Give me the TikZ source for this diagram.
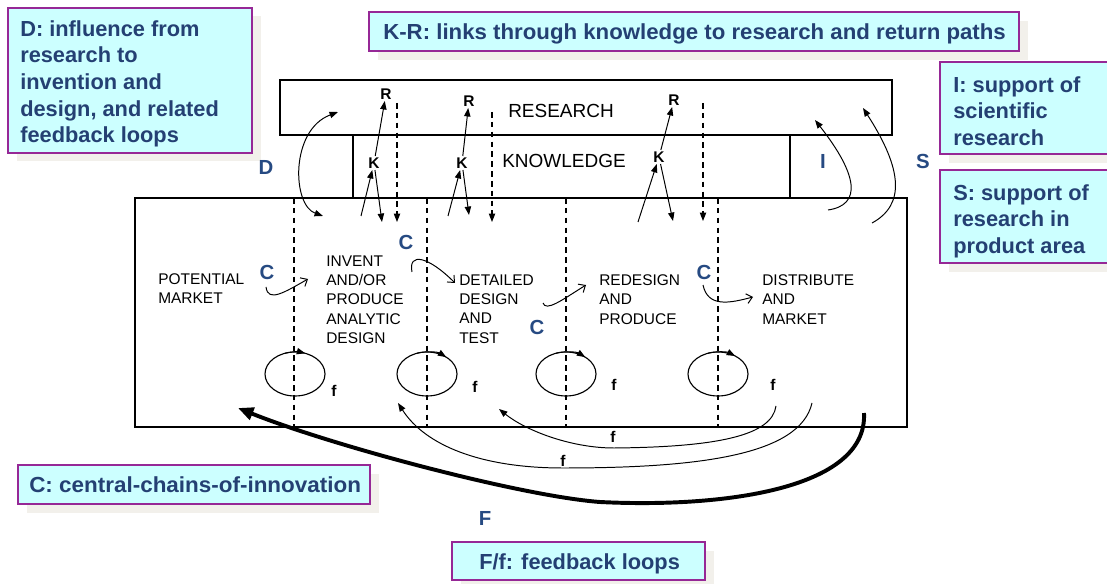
\documentclass[tikz,border=0pt]{standalone}
\usepackage{fontspec}
\setmainfont{Liberation Sans}
\usepackage{xcolor,graphicx}
\usetikzlibrary{positioning, arrows.meta}

\definecolor{notefill}{RGB}{204,255,255}
\definecolor{noteline}{RGB}{150,40,150}
\definecolor{notetext}{RGB}{36,64,115}
\definecolor{notedropc}{RGB}{242,240,235}
\definecolor{tagblue}{RGB}{38,74,130}

\begin{document}
\begin{tikzpicture}[x=0.025cm, y=-0.025cm,
    box/.style={draw, line width=0.9pt},
    divider/.style={dash pattern=on 4pt off 3pt, line width=0.8pt},
    arr/.style={-{Triangle[length=6pt, width=4.5pt]}, line width=0.7pt},
    arrboth/.style={{Triangle[length=6pt, width=4.5pt]}-{Triangle[length=6pt, width=4.5pt]}, line width=0.7pt},
    barb/.style={-{Straight Barb[length=4pt, width=7pt]}, line width=0.7pt},
    bigarr/.style={-{Triangle[length=11pt, width=9pt]}, line width=2.8pt},
    stage/.style={align=left, anchor=north west, inner sep=0pt, font=\fontsize{11}{13.7}\selectfont},
    layer/.style={inner sep=0pt, font=\fontsize{13.5}{14}\selectfont},
    kr/.style={inner sep=1pt, font=\bfseries\fontsize{11}{11}\selectfont},
    tag/.style={inner sep=0pt, text=tagblue, font=\bfseries\fontsize{14.5}{14.5}\selectfont},
    note/.style={draw=noteline, fill=notefill, line width=1pt},
    notedrop/.style={fill=notedropc},
    notetxt/.style={align=left, inner sep=0pt, text=notetext, font=\bfseries\fontsize{15.5}{19}\selectfont}]
  \clip (0,0) rectangle (1107,584);

  % notes
  \fill[notedrop] (17,16) rectangle (261,161);
  \draw[note] (8,8) rectangle (252,153);
  \node[notetxt, anchor=north west] (Dnote) at (20,20) {D: influence from\\research to\\invention and\\design, and related\\feedback loops};
  \fill[notedrop] (378,21) rectangle (1028,60);
  \draw[note] (369,12) rectangle (1019,51);
  \node[notetxt, anchor=base west] (KRnote) at (383,39.5) {\scalebox{1.02}[1]{K-R: links through knowledge to research and return paths}};
  \fill[notedrop] (949,71) rectangle (1110,163);
  \draw[note] (940,62) rectangle (1112,154);
  \node[notetxt, anchor=north west] (Inote) at (953,76) {I: support of\\scientific\\research};
  \fill[notedrop] (949,179) rectangle (1110,272);
  \draw[note] (940,170) rectangle (1112,263);
  \node[notetxt, anchor=north west] (Snote) at (953,184) {S: support of\\research in\\product area};
  \fill[notedrop] (27,474) rectangle (379,513);
  \draw[note] (18,465) rectangle (370,504);
  \node[notetxt, anchor=base west] (Cnote) at (29,492) {\scalebox{1.03}[1]{C: central-chains-of-innovation}};
  \fill[notedrop] (461,551) rectangle (714,589);
  \draw[note] (452,542) rectangle (705,580);
  \node[notetxt, anchor=base west] (Fnote) at (479,569) {F/f: feedback loops};

  % layers
  \draw[box] (280,80) rectangle (892,135);
  \draw[box] (353,135) -- (353,198) (790,135) -- (790,198);
  \draw[box] (135,198) rectangle (907,427);
  \node[layer] (research) at (561,111) {RESEARCH};
  \node[layer] (knowledge) at (564,160.5) {KNOWLEDGE};

  \node[stage] (market) at (158,273.5) {POTENTIAL\\MARKET};
  \node[stage] (invent) at (326,255.5) {INVENT\\AND/OR\\PRODUCE\\ANALYTIC\\DESIGN};
  \node[stage] (detail) at (459,274.5) {DETAILED\\DESIGN\\AND\\TEST};
  \node[stage] (redesign) at (599,274.5) {REDESIGN\\AND\\PRODUCE};
  \node[stage] (distrib) at (762,274.5) {DISTRIBUTE\\AND\\MARKET};

  \foreach \x in {294,427,566,718}
    \draw[divider] (\x,198) -- (\x,427);

  % links through knowledge
  \node[kr] (K1) at (374,163) {K};
  \node[kr] (R1) at (386,94) {R};
  \node[kr] (K2) at (462,163) {K};
  \node[kr] (R2) at (469,101) {R};
  \node[kr] (K3) at (659,157) {K};
  \node[kr] (R3) at (674,100) {R};
  \coordinate (a1) at (361,216);
  \coordinate (b1) at (382,222);
  \coordinate (a2) at (448,216);
  \coordinate (b2) at (469,215);
  \coordinate (a3) at (638,222);
  \coordinate (b3) at (673,221);
  \path[arr]
    (K1) edge (R1)
    (a1) edge (K1)
    (K1) edge (b1)
    (K2) edge (R2)
    (a2) edge (K2)
    (K2) edge (b2)
    (K3) edge (R3)
    (a3) edge (K3)
    (K3) edge (b3);

  \coordinate (d1) at (397,103);
  \coordinate (e1) at (397,222);
  \coordinate (d2) at (492,112);
  \coordinate (e2) at (492,222);
  \coordinate (d3) at (703,103);
  \coordinate (e3) at (703,221);
  \path[arr, divider]
    (d1) edge (e1)
    (d2) edge (e2)
    (d3) edge (e3);

  % D, I, S
  \coordinate (dlow) at (323,216);
  \coordinate (dhigh) at (338,112);
  \draw[arrboth] (dlow) .. controls (292,205) and (290,130) .. (dhigh);
  \coordinate (itail) at (828,210);
  \coordinate (ihead) at (815,120);
  \draw[arr] (itail) .. controls (862,205) and (858,175) .. (ihead);
  \coordinate (stail) at (872,223);
  \coordinate (shead) at (863,108);
  \draw[arr] (stail) .. controls (905,205) and (903,170) .. (shead);
  \node[tag] (Dtag) at (266,167) {D};
  \node[tag] (Itag) at (823,161) {I};
  \node[tag] (Stag) at (923,161) {S};

  % central chain
  \coordinate (c1s) at (266,287);
  \coordinate (c1e) at (308,279);
  \coordinate (c2s) at (412,272);
  \coordinate (c2e) at (455,283);
  \coordinate (c3s) at (543,303);
  \coordinate (c3e) at (586,285);
  \coordinate (c4s) at (703,285);
  \coordinate (c4e) at (753,297);
  \draw[barb] (c1s) .. controls (268,303) and (285,292) .. (c1e);
  \draw[barb] (c2s) .. controls (408,252) and (428,256) .. (c2e);
  \draw[barb] (c3s) .. controls (546,312) and (562,300) .. (c3e);
  \draw[barb] (c4s) .. controls (708,308) and (730,303) .. (c4e);
  \node[tag] (C1) at (267,272) {C};
  \node[tag] (C2) at (406,242) {C};
  \node[tag] (C3) at (537,327) {C};
  \node[tag] (C4) at (704,272) {C};

  % feedback loops
  \foreach \x/\a in {295/-70, 427/-50, 566/-50, 718/-55} {
    \draw[line width=0.8pt] (\x,374) ellipse [x radius=30, y radius=22];
    \draw[arr] (\x,374) ++(-110:30 and 22) arc[start angle=-110, end angle=\a, x radius=30, y radius=22];
  }
  \node[kr] (f1) at (334,391) {f};
  \node[kr] (f2) at (475,387) {f};
  \node[kr] (f3) at (614,385) {f};
  \node[kr] (f4) at (773,385) {f};

  \coordinate (g1s) at (776,406);
  \coordinate (g1e) at (499,409);
  \coordinate (g2s) at (812,403);
  \coordinate (g2e) at (398,403);
  \coordinate (Fs) at (864,413);
  \coordinate (Fe) at (238,408);
  \draw[arr] (g1s) .. controls (772,435) and (720,447) .. (614,448) .. controls (570,448) and (525,430) .. (g1e);
  \draw[arr] (g2s) .. controls (800,455) and (700,468) .. (563,468) .. controls (480,468) and (425,445) .. (g2e);
  \draw[bigarr] (Fs) .. controls (868,490) and (720,508) .. (600,502) .. controls (520,496) and (330,445) .. (Fe);
  \node[kr] (g1) at (613,437) {f};
  \node[kr] (g2) at (563,461) {f};
  \node[tag] (Ftag) at (485,518) {F};
\end{tikzpicture}
\end{document}
